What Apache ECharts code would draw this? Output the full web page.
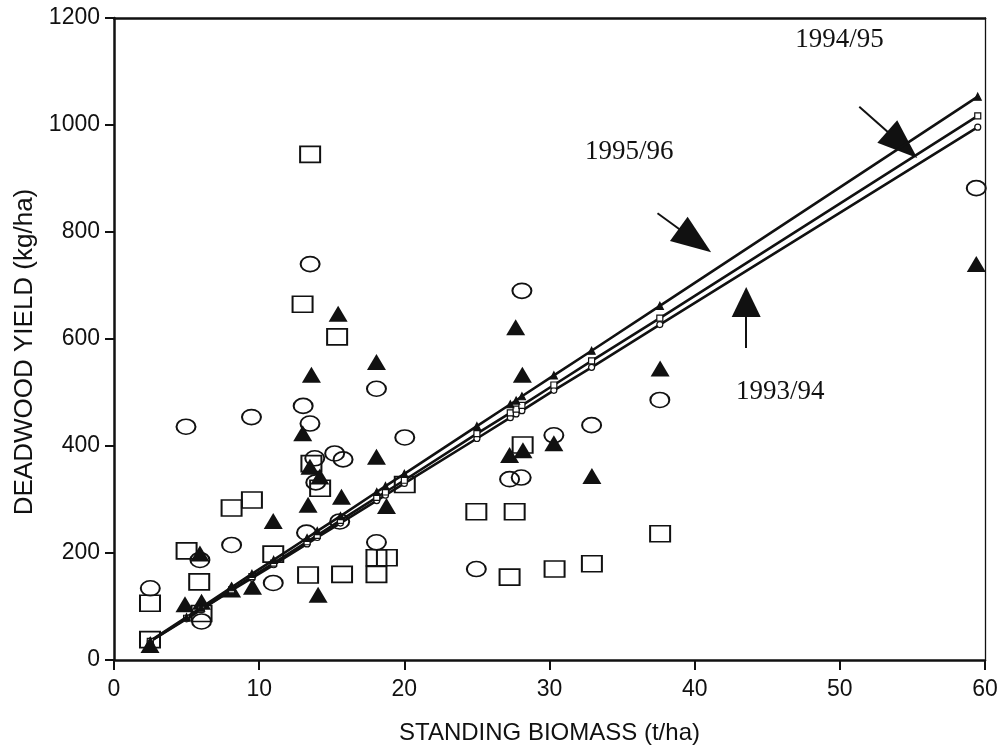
<!DOCTYPE html>
<html>
<head>
<meta charset="utf-8">
<script src="https://cdn.jsdelivr.net/npm/echarts@6/dist/echarts.min.js"></script>
<style>
  html, body { margin: 0; padding: 0; background: #fff; }
  #chart { width: 1001px; height: 754px; }
</style>
</head>
<body>
<div id="chart"></div>
<script>
// Axis ticks
const xTicks = [0, 10, 20, 30, 40, 50, 60];
const yTicks = [0, 200, 400, 600, 800, 1000, 1200];

// Observed deadwood yield [standing biomass t/ha, yield kg/ha] by season
const season9394 = [
  [2.5, 134], [4.96, 436], [5.92, 187], [6.03, 72], [8.1, 215], [9.47, 454],
  [10.97, 144], [13.03, 475], [13.5, 442], [13.51, 740], [13.26, 238], [13.83, 377],
  [13.9, 332], [15.2, 386], [15.78, 375], [15.55, 259], [18.08, 507], [18.08, 220],
  [20.03, 416], [24.96, 170], [27.25, 338], [28.05, 341], [28.1, 690], [30.3, 420],
  [32.9, 439], [37.6, 486], [59.4, 882]
];
const season9495 = [
  [2.48, 106], [2.48, 38], [5.0, 204], [5.87, 146], [6.03, 87], [8.1, 284],
  [9.5, 299], [10.97, 198], [12.99, 665], [13.51, 945], [13.37, 159], [13.6, 367],
  [14.2, 321], [15.37, 604], [15.71, 160], [18.08, 160], [18.08, 191], [18.8, 191],
  [20.03, 328], [24.96, 277], [27.25, 155], [27.6, 277], [28.15, 402], [30.35, 170],
  [32.92, 180], [37.62, 236]
];
const season9596 = [
  [2.48, 28], [4.89, 104], [5.92, 199], [6.03, 109], [8.1, 132], [9.54, 137],
  [10.97, 260], [13.0, 424], [13.37, 290], [13.5, 361], [13.6, 533], [14.06, 122],
  [14.18, 343], [15.44, 647], [15.67, 305], [18.08, 557], [18.08, 380], [18.77, 288],
  [27.25, 383], [27.67, 622], [28.13, 533], [28.17, 392], [30.3, 405], [32.92, 344],
  [37.62, 545], [59.4, 740]
];

// Fitted regression values at the sampled biomass levels
const fit9394 = [
  [2.5, 35], [5, 77], [6, 94], [8.1, 130], [9.5, 153], [11, 178], [13.3, 217],
  [14, 229], [15.6, 256], [18.1, 298], [18.7, 308], [20, 330], [25, 414],
  [27.3, 453], [27.7, 460], [28.1, 466], [30.3, 504], [32.9, 547], [37.6, 627], [59.5, 996]
];
const fit9495 = [
  [2.5, 35], [5, 78], [6, 95], [8.1, 131], [9.5, 156], [11, 181], [13.3, 221],
  [14, 233], [15.6, 261], [18.1, 304], [18.7, 314], [20, 336], [25, 423],
  [27.3, 462], [27.7, 469], [28.1, 476], [30.3, 514], [32.9, 559], [37.6, 639], [59.5, 1017]
];
const fit9596 = [
  [2.5, 36], [5, 80], [6, 98], [8.1, 136], [9.5, 161], [11, 187], [13.3, 228],
  [14, 241], [15.6, 269], [18.1, 314], [18.7, 325], [20, 348], [25, 437],
  [27.3, 478], [27.7, 485], [28.1, 493], [30.3, 532], [32.9, 578], [37.6, 662], [59.5, 1053]
];

// Season labels and the arrows pointing at each fitted line
const seasonLabels = [
  { name: '1995/96', coord: [35.5, 950] },
  { name: '1994/95', coord: [49.97, 1159] },
  { name: '1993/94', coord: [45.9, 501] }
];
const arrows = [
  { from: [37.44, 835], to: [40.02, 784], head: [30, 40] },
  { from: [51.34, 1034], to: [54.3, 963], head: [30, 40] },
  { from: [43.55, 583], to: [43.55, 669], head: [29, 30] }
];

const INK = '#111';
const sans = 'Liberation Sans, Arial, sans-serif';
const serif = 'Liberation Serif, Times New Roman, serif';

const chart = echarts.init(document.getElementById('chart'), null, { renderer: 'canvas' });

function openScatter(data, symbol, size) {
  return {
    type: 'scatter', data, symbol, symbolSize: size,
    xAxisIndex: 0, yAxisIndex: 0,
    itemStyle: { color: 'rgba(255,255,255,0)', borderColor: INK, borderWidth: 1.8, opacity: 1 },
    silent: true
  };
}

function fitLine(data, symbol, size, filled) {
  return {
    type: 'line', data, symbol, symbolSize: size, showSymbol: true,
    xAxisIndex: 0, yAxisIndex: 0,
    lineStyle: { color: INK, width: 2.6 },
    itemStyle: { color: filled ? INK : '#fff', borderColor: INK, borderWidth: 1.2 },
    silent: true, z: 5
  };
}

const fitTop = fitLine(fit9596, 'triangle', 7, true);
fitTop.markLine = {
  silent: true,
  symbol: ['none', 'triangle'],
  lineStyle: { color: INK, width: 2, type: 'solid' },
  label: { show: false },
  emphasis: { disabled: true },
  data: arrows.map(a => [
    { coord: a.from, symbolSize: 1 },
    { coord: a.to, symbolSize: a.head }
  ])
};
fitTop.markPoint = {
  silent: true,
  symbol: 'rect', symbolSize: 1,
  itemStyle: { color: 'rgba(0,0,0,0)' },
  label: {
    show: true, position: 'inside', color: INK,
    fontFamily: serif, fontSize: 27,
    formatter: p => p.name
  },
  data: seasonLabels.map(s => ({ name: s.name, coord: s.coord }))
};

chart.setOption({
  animation: false,
  backgroundColor: '#fff',
  grid: { left: 114, right: 16, top: 18, bottom: 94, containLabel: false },
  xAxis: [{
    type: 'value', min: xTicks[0], max: xTicks[xTicks.length - 1], interval: 10,
    position: 'bottom',
    name: 'STANDING BIOMASS (t/ha)', nameLocation: 'middle', nameGap: 61,
    nameTextStyle: { color: INK, fontFamily: sans, fontSize: 24 },
    axisLine: { show: true, onZero: false, lineStyle: { color: INK, width: 2.5 } },
    axisTick: { show: true, inside: false, length: 10, lineStyle: { color: INK, width: 2 } },
    axisLabel: { color: INK, fontFamily: sans, fontSize: 23, margin: 18, formatter: v => String(v) },
    splitLine: { show: false }
  }, {
    type: 'value', min: 0, max: 60, position: 'top',
    axisLine: { show: true, onZero: false, lineStyle: { color: INK, width: 2.5 } },
    axisTick: { show: false }, axisLabel: { show: false }, splitLine: { show: false }
  }],
  yAxis: [{
    type: 'value', min: yTicks[0], max: yTicks[yTicks.length - 1], interval: 200,
    position: 'left',
    name: 'DEADWOOD YIELD (kg/ha)', nameLocation: 'middle', nameGap: 76,
    nameTextStyle: { color: INK, fontFamily: sans, fontSize: 26, padding: [0, 26, 0, 0] },
    axisLine: { show: true, onZero: false, lineStyle: { color: INK, width: 2.5 } },
    axisTick: { show: true, inside: false, length: 9, lineStyle: { color: INK, width: 2 } },
    axisLabel: { color: INK, fontFamily: sans, fontSize: 23, margin: 14, formatter: v => String(v) },
    splitLine: { show: false }
  }, {
    type: 'value', min: 0, max: 1200, position: 'right',
    axisLine: { show: true, onZero: false, lineStyle: { color: INK, width: 1.3 } },
    axisTick: { show: false }, axisLabel: { show: false }, splitLine: { show: false }
  }],
  series: [
    openScatter(season9495, 'rect', [20, 16]),
    openScatter(season9394, 'circle', [19, 15]),
    {
      type: 'scatter', data: season9596, symbol: 'triangle', symbolSize: [19, 16],
      xAxisIndex: 0, yAxisIndex: 0,
      itemStyle: { color: INK, opacity: 1 }, silent: true
    },
    fitLine(fit9394, 'circle', 6, false),
    fitLine(fit9495, 'rect', 6, false),
    fitTop
  ]
});
</script>
</body>
</html>
